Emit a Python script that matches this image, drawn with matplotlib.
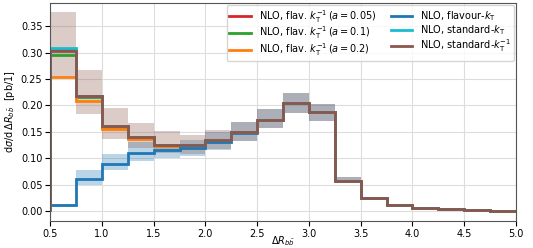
import numpy as np
import matplotlib
matplotlib.use("Agg")
import matplotlib.pyplot as plt

# bin edges in Delta R_bb
edges = np.arange(0.5, 5.01, 0.25)

# central values [pb/1]
flav_a005 = [0.305, 0.218, 0.161, 0.140, 0.126, 0.125, 0.134, 0.149, 0.173, 0.204, 0.187, 0.058, 0.024, 0.011, 0.0055, 0.0035, 0.002, 0.001]
flav_a01 = [0.295, 0.216, 0.160, 0.139, 0.126, 0.125, 0.134, 0.149, 0.173, 0.204, 0.187, 0.058, 0.024, 0.011, 0.0055, 0.0035, 0.002, 0.001]
flav_a02 = [0.253, 0.208, 0.156, 0.137, 0.124, 0.125, 0.134, 0.149, 0.173, 0.204, 0.187, 0.058, 0.024, 0.011, 0.0055, 0.0035, 0.002, 0.001]
flav_kt = [0.011, 0.061, 0.090, 0.111, 0.116, 0.119, 0.131, 0.147, 0.173, 0.204, 0.187, 0.058, 0.024, 0.011, 0.0055, 0.0035, 0.002, 0.001]
std_kt = [0.308, 0.218, 0.161, 0.140, 0.126, 0.125, 0.134, 0.149, 0.173, 0.204, 0.187, 0.058, 0.024, 0.011, 0.0055, 0.0035, 0.002, 0.001]
std_ktinv = [0.303, 0.218, 0.161, 0.140, 0.126, 0.125, 0.134, 0.149, 0.173, 0.204, 0.187, 0.058, 0.024, 0.011, 0.0055, 0.0035, 0.002, 0.001]

# scale-variation bands
flav_kt_up = [0.013, 0.078, 0.108, 0.131, 0.126, 0.135, 0.150, 0.168, 0.193, 0.223, 0.202, 0.064, 0.026, 0.012, 0.0065, 0.004, 0.0025, 0.0012]
flav_kt_dn = [0.008, 0.050, 0.077, 0.095, 0.100, 0.104, 0.116, 0.133, 0.157, 0.186, 0.170, 0.054, 0.022, 0.010, 0.005, 0.003, 0.0017, 0.0008]
std_ktinv_up = [0.376, 0.268, 0.196, 0.167, 0.151, 0.144, 0.154, 0.168, 0.193, 0.223, 0.202, 0.064, 0.026, 0.012, 0.0065, 0.004, 0.0025, 0.0012]
std_ktinv_dn = [0.252, 0.183, 0.137, 0.119, 0.111, 0.108, 0.118, 0.133, 0.157, 0.186, 0.170, 0.054, 0.022, 0.010, 0.005, 0.003, 0.0017, 0.0008]

plt.rcParams['font.size'] = 7

fig = plt.figure(figsize=(5.33, 2.48), dpi=100)
ax = fig.add_axes([0.094, 0.108, 0.874, 0.880])

ax.stairs(flav_kt_up, edges, baseline=flav_kt_dn, fill=True, color='tab:blue', alpha=0.3, lw=0)
ax.stairs(std_ktinv_up, edges, baseline=std_ktinv_dn, fill=True, color='tab:brown', alpha=0.3, lw=0)

lw = 2
ax.stairs(flav_a005, edges, color='tab:red', lw=lw, label=r'NLO, flav. $k_\mathrm{T}^{-1}\,(a=0.05)$')
ax.stairs(flav_a01, edges, color='tab:green', lw=lw, label=r'NLO, flav. $k_\mathrm{T}^{-1}\,(a=0.1)$')
ax.stairs(flav_a02, edges, color='tab:orange', lw=lw, label=r'NLO, flav. $k_\mathrm{T}^{-1}\,(a=0.2)$')
ax.stairs(flav_kt, edges, color='tab:blue', lw=lw, label=r'NLO, flavour-$k_\mathrm{T}$')
ax.stairs(std_kt, edges, color='tab:cyan', lw=lw, label=r'NLO, standard-$k_\mathrm{T}$')
ax.stairs(std_ktinv, edges, color='tab:brown', lw=lw, label=r'NLO, standard-$k_\mathrm{T}^{-1}$')

ax.set_xlim(0.5, 5.0)
ax.set_ylim(-0.019, 0.394)
ax.set_xticks(np.arange(0.5, 5.01, 0.5))
ax.set_yticks(np.arange(0, 0.36, 0.05))
ax.tick_params(axis='x', pad=2)
ax.tick_params(axis='y', pad=2)
ax.grid(True, color='#dddddd', lw=0.8)
ax.set_axisbelow(True)
for s in ax.spines.values():
    s.set_color('#555555')

ax.set_xlabel(r'$\Delta R_{b\bar{b}}$', labelpad=-3)
ax.set_ylabel(r'$\mathrm{d}\sigma/\mathrm{d}\,\Delta R_{b\bar{b}}$  [pb/1]', labelpad=3)

ax.legend(loc='upper right', ncol=2, fontsize=7, handlelength=2.2, columnspacing=1.5,
          borderaxespad=0.2, labelspacing=0.0, borderpad=0.3)

fig.savefig('out.png', dpi=100)
